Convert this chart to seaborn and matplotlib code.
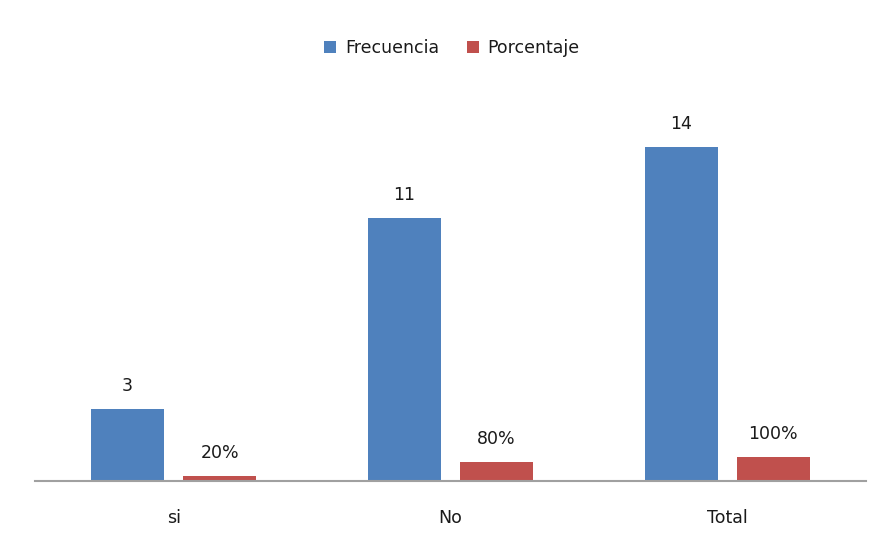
import numpy as np
import pandas as pd
from matplotlib import pyplot as plt
import seaborn as sns

categorias = ['si', 'No', 'Total']
frecuencia = [3, 11, 14]
porcentaje = [0.20, 0.80, 1.00]
etiquetas_pct = ['20%', '80%', '100%']

df = pd.DataFrame({
    'categoria': categorias * 2,
    'serie': ['Frecuencia'] * 3 + ['Porcentaje'] * 3,
    'valor': frecuencia + porcentaje,
})

sns.set_style('white')
plt.rcParams['font.family'] = ['DejaVu Sans']
texto = '#1a1a1a'
tam = 12.5

fig = plt.figure(figsize=(8.79, 5.41), dpi=100)
ax = fig.add_axes([0.040, 0.111, 0.945, 0.706])

sns.barplot(data=df, x='categoria', y='valor', hue='serie',
            order=categorias, hue_order=['Frecuencia', 'Porcentaje'],
            palette=['#4F81BD', '#C0504D'], saturation=1,
            width=0.664, gap=0.2, linewidth=0, ax=ax)

ax.bar_label(ax.containers[0], labels=[str(v) for v in frecuencia],
             padding=10, fontsize=tam, color=texto)
ax.bar_label(ax.containers[1], labels=etiquetas_pct,
             padding=10, fontsize=tam, color=texto)

ax.set_ylim(0, 16)
ax.set_xlim(-0.5, 2.5)
ax.set_yticks([])
ax.set_xlabel('')
ax.set_ylabel('')
ax.tick_params(axis='x', length=0, pad=20, labelsize=tam, labelcolor=texto)
for s in ['top', 'right', 'left']:
    ax.spines[s].set_visible(False)
ax.spines['bottom'].set_color('#a0a0a0')
ax.spines['bottom'].set_linewidth(1.5)

ax.legend(loc='center', bbox_to_anchor=(0.514, 0.911),
          bbox_transform=fig.transFigure, ncol=2, frameon=False,
          fontsize=tam, handlelength=0.7, handleheight=0.7,
          handletextpad=0.5, columnspacing=1.6, labelcolor=texto)

fig.savefig('out.png', dpi=100)
